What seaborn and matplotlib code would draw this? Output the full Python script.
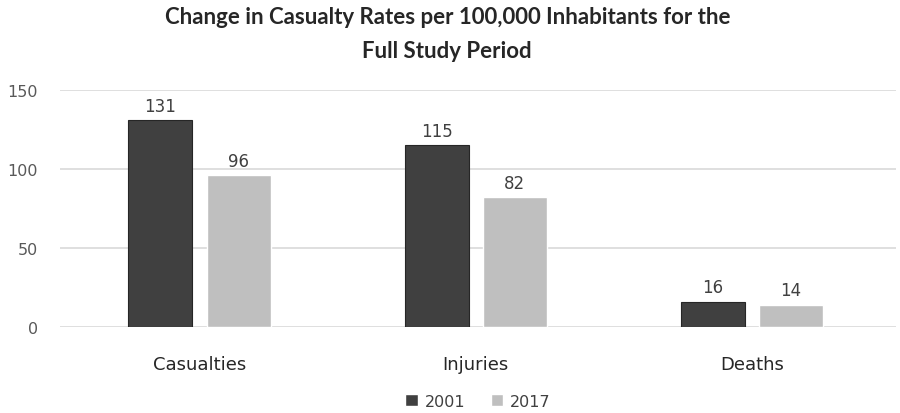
import pandas as pd
import seaborn as sns
import matplotlib.pyplot as plt

# values
categories = ['Casualties', 'Injuries', 'Deaths']
rates_2001 = [131, 115, 16]
rates_2017 = [96, 82, 14]
years = ['2001', '2017']

df = pd.DataFrame({
    'category': categories * 2,
    'year': [years[0]] * 3 + [years[1]] * 3,
    'rate': rates_2001 + rates_2017,
})

sns.set_style('white')
plt.rcParams['font.family'] = ['DejaVu Sans']

fig = plt.figure(figsize=(9, 4.14), dpi=100)
ax = fig.add_axes([0.067, 0.208, 0.928, 0.572])

palette = {'2001': '#404040', '2017': '#bfbfbf'}
sns.barplot(data=df, x='category', y='rate', hue='year', palette=palette,
            width=0.566, gap=0.18, saturation=1, ax=ax, zorder=3)

# dark outline on the 2001 bars only
for bar in ax.containers[0]:
    bar.set_edgecolor('#262626')
    bar.set_linewidth(0.8)

for cont in ax.containers:
    ax.bar_label(cont, padding=4, fontsize=12, color='#404040')

ax.set_ylim(0, 150)
ax.set_yticks([0, 50, 100, 150])
ax.set_xlim(-0.504, 2.52)
ax.yaxis.grid(True, color='#d9d9d9', linewidth=1.2, zorder=0)
for s in ax.spines.values():
    s.set_visible(False)
ax.tick_params(axis='y', length=0, pad=16, labelsize=11.5, labelcolor='#595959')
ax.tick_params(axis='x', length=0, pad=20, labelsize=13, labelcolor='#262626')
ax.set_xlabel('')
ax.set_ylabel('')

fig.suptitle('Change in Casualty Rates per 100,000 Inhabitants for the\nFull Study Period',
             x=0.497, y=0.982, fontsize=16, fontweight='bold', color='#262626',
             family=['Lato', 'DejaVu Sans'], linespacing=1.75)

ax.legend(loc='upper center', bbox_to_anchor=(0.5, -0.235), ncol=2, frameon=False,
          fontsize=11.5, handlelength=0.8, handleheight=0.8, handletextpad=0.4,
          columnspacing=1.6, labelcolor='#404040', borderpad=0.2)

fig.savefig('out.png', dpi=100)
